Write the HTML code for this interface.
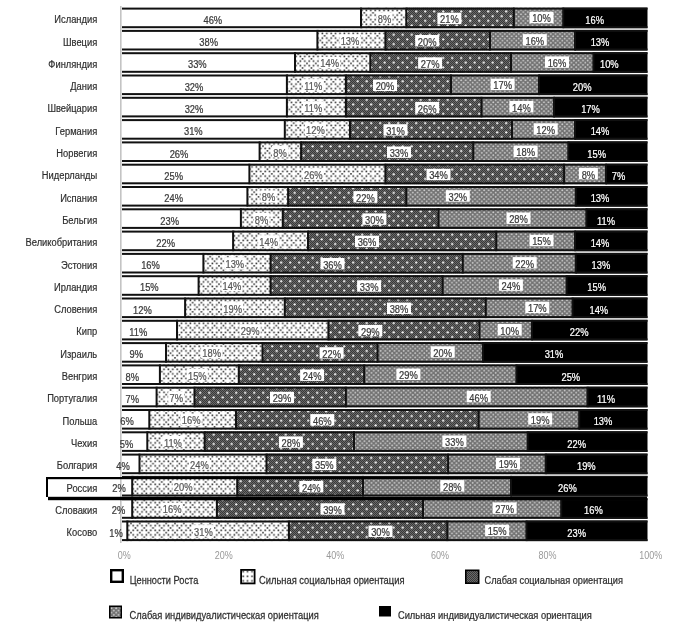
<!DOCTYPE html><html><head><meta charset="utf-8"><style>html,body{margin:0;padding:0;background:#fff;width:688px;height:628px;overflow:hidden}svg{display:block;will-change:transform}</style></head><body>
<svg width="688" height="628" viewBox="0 0 688 628" font-family='"Liberation Sans", sans-serif'>
<defs>
<pattern id="pS" width="4.4" height="4.6" patternUnits="userSpaceOnUse"><rect width="4.4" height="4.6" fill="#fff"/><rect x="0.4" y="0.5" width="1.6" height="1.6" fill="#333"/></pattern>
<pattern id="pS2" width="8.8" height="9.2" patternUnits="userSpaceOnUse"><rect x="2.6" y="2.8" width="1.6" height="1.6" fill="#3a3a3a"/><rect x="7.0" y="7.4" width="1.6" height="1.6" fill="#3a3a3a"/></pattern>
<pattern id="pC" width="2" height="2" patternUnits="userSpaceOnUse"><rect width="2" height="2" fill="#6a6a6a"/><rect width="1" height="1" fill="#383838"/><rect x="1" y="1" width="1" height="1" fill="#383838"/></pattern>
<pattern id="pW" width="9" height="9.3" patternUnits="userSpaceOnUse"><circle cx="2.2" cy="2.2" r="1.15" fill="#f2f2f2"/><circle cx="6.7" cy="6.85" r="1.15" fill="#f2f2f2"/></pattern>
<pattern id="pI" width="4.6" height="4.4" patternUnits="userSpaceOnUse"><rect width="4.6" height="4.4" fill="#727272"/><circle cx="1.15" cy="1.1" r="0.95" fill="#cfcfcf"/><circle cx="3.45" cy="3.3" r="0.95" fill="#cfcfcf"/></pattern>
</defs>
<rect x="120" y="6" width="1.6" height="537" fill="#c4c4c4"/>
<rect x="122.0" y="7.6" width="239.0" height="20.6" fill="#fff"/>
<rect x="361.0" y="7.6" width="45.3" height="20.6" fill="url(#pS)"/>
<rect x="361.0" y="7.6" width="45.3" height="20.6" fill="url(#pS2)"/>
<rect x="406.3" y="7.6" width="107.6" height="20.6" fill="url(#pC)"/>
<rect x="406.3" y="7.6" width="107.6" height="20.6" fill="url(#pW)"/>
<rect x="513.9" y="7.6" width="49.3" height="20.6" fill="url(#pI)"/>
<rect x="563.2" y="7.6" width="84.3" height="20.6" fill="#000"/>
<rect x="122.0" y="7.6" width="525.5" height="2" fill="#111"/>
<rect x="122.0" y="26.2" width="525.5" height="2" fill="#111"/>
<rect x="360.0" y="7.6" width="2" height="20.6" fill="#111"/>
<rect x="405.3" y="7.6" width="2" height="20.6" fill="#111"/>
<rect x="512.9" y="7.6" width="2" height="20.6" fill="#111"/>
<rect x="562.2" y="7.6" width="2" height="20.6" fill="#111"/>
<text x="0" y="0" transform="translate(212.8,23.8) scale(0.85,1)" text-anchor="middle" font-size="11" fill="#3a3a3a" stroke="#3a3a3a" stroke-width="0.25">46%</text>
<rect x="376.5" y="12.2" width="16.0" height="11.4" fill="#fff"/>
<text x="0" y="0" transform="translate(384.5,22.8) scale(0.85,1)" text-anchor="middle" font-size="11" fill="#585858" stroke="#585858" stroke-width="0.25">8%</text>
<rect x="437.4" y="12.7" width="24.0" height="11.4" fill="#fff"/>
<text x="0" y="0" transform="translate(449.4,23.3) scale(0.85,1)" text-anchor="middle" font-size="11" fill="#3a3a3a" stroke="#3a3a3a" stroke-width="0.25">21%</text>
<rect x="529.5" y="11.8" width="24.0" height="11.4" fill="#fff"/>
<text x="0" y="0" transform="translate(541.5,22.4) scale(0.85,1)" text-anchor="middle" font-size="11" fill="#3a3a3a" stroke="#3a3a3a" stroke-width="0.25">10%</text>
<text x="0" y="0" transform="translate(594.6,23.8) scale(0.85,1)" text-anchor="middle" font-size="11" fill="#fff" stroke="#fff" stroke-width="0.25">16%</text>
<text x="0" y="0" transform="translate(97.2,23.2) scale(0.85,1)" text-anchor="end" font-size="11" fill="#2e2e2e" stroke="#2e2e2e" stroke-width="0.2">Исландия</text>
<rect x="122.0" y="29.9" width="195.4" height="20.6" fill="#fff"/>
<rect x="317.4" y="29.9" width="68.0" height="20.6" fill="url(#pS)"/>
<rect x="317.4" y="29.9" width="68.0" height="20.6" fill="url(#pS2)"/>
<rect x="385.4" y="29.9" width="104.6" height="20.6" fill="url(#pC)"/>
<rect x="385.4" y="29.9" width="104.6" height="20.6" fill="url(#pW)"/>
<rect x="490.0" y="29.9" width="85.0" height="20.6" fill="url(#pI)"/>
<rect x="575.0" y="29.9" width="72.5" height="20.6" fill="#000"/>
<rect x="122.0" y="29.9" width="525.5" height="2" fill="#111"/>
<rect x="122.0" y="48.5" width="525.5" height="2" fill="#111"/>
<rect x="316.4" y="29.9" width="2" height="20.6" fill="#111"/>
<rect x="384.4" y="29.9" width="2" height="20.6" fill="#111"/>
<rect x="489.0" y="29.9" width="2" height="20.6" fill="#111"/>
<rect x="574.0" y="29.9" width="2" height="20.6" fill="#111"/>
<text x="0" y="0" transform="translate(208.7,46.1) scale(0.85,1)" text-anchor="middle" font-size="11" fill="#3a3a3a" stroke="#3a3a3a" stroke-width="0.25">38%</text>
<rect x="339.5" y="34.5" width="21.0" height="11.4" fill="#fff"/>
<text x="0" y="0" transform="translate(350.0,45.1) scale(0.85,1)" text-anchor="middle" font-size="11" fill="#585858" stroke="#585858" stroke-width="0.25">13%</text>
<rect x="415.2" y="35.0" width="24.0" height="11.4" fill="#fff"/>
<text x="0" y="0" transform="translate(427.2,45.6) scale(0.85,1)" text-anchor="middle" font-size="11" fill="#3a3a3a" stroke="#3a3a3a" stroke-width="0.25">20%</text>
<rect x="522.8" y="34.1" width="24.0" height="11.4" fill="#fff"/>
<text x="0" y="0" transform="translate(534.8,44.7) scale(0.85,1)" text-anchor="middle" font-size="11" fill="#3a3a3a" stroke="#3a3a3a" stroke-width="0.25">16%</text>
<text x="0" y="0" transform="translate(600.0,46.1) scale(0.85,1)" text-anchor="middle" font-size="11" fill="#fff" stroke="#fff" stroke-width="0.25">13%</text>
<text x="0" y="0" transform="translate(97.2,45.5) scale(0.85,1)" text-anchor="end" font-size="11" fill="#2e2e2e" stroke="#2e2e2e" stroke-width="0.2">Швеция</text>
<rect x="122.0" y="52.2" width="173.0" height="20.6" fill="#fff"/>
<rect x="295.0" y="52.2" width="75.3" height="20.6" fill="url(#pS)"/>
<rect x="295.0" y="52.2" width="75.3" height="20.6" fill="url(#pS2)"/>
<rect x="370.3" y="52.2" width="140.7" height="20.6" fill="url(#pC)"/>
<rect x="370.3" y="52.2" width="140.7" height="20.6" fill="url(#pW)"/>
<rect x="511.0" y="52.2" width="82.4" height="20.6" fill="url(#pI)"/>
<rect x="593.4" y="52.2" width="54.1" height="20.6" fill="#000"/>
<rect x="122.0" y="52.2" width="525.5" height="2" fill="#111"/>
<rect x="122.0" y="70.8" width="525.5" height="2" fill="#111"/>
<rect x="294.0" y="52.2" width="2" height="20.6" fill="#111"/>
<rect x="369.3" y="52.2" width="2" height="20.6" fill="#111"/>
<rect x="510.0" y="52.2" width="2" height="20.6" fill="#111"/>
<rect x="592.4" y="52.2" width="2" height="20.6" fill="#111"/>
<text x="0" y="0" transform="translate(197.3,68.4) scale(0.85,1)" text-anchor="middle" font-size="11" fill="#3a3a3a" stroke="#3a3a3a" stroke-width="0.25">33%</text>
<rect x="319.1" y="56.8" width="21.0" height="11.4" fill="#fff"/>
<text x="0" y="0" transform="translate(329.6,67.4) scale(0.85,1)" text-anchor="middle" font-size="11" fill="#585858" stroke="#585858" stroke-width="0.25">14%</text>
<rect x="418.1" y="57.3" width="24.0" height="11.4" fill="#fff"/>
<text x="0" y="0" transform="translate(430.1,67.9) scale(0.85,1)" text-anchor="middle" font-size="11" fill="#3a3a3a" stroke="#3a3a3a" stroke-width="0.25">27%</text>
<rect x="545.0" y="56.4" width="24.0" height="11.4" fill="#fff"/>
<text x="0" y="0" transform="translate(557.0,67.0) scale(0.85,1)" text-anchor="middle" font-size="11" fill="#3a3a3a" stroke="#3a3a3a" stroke-width="0.25">16%</text>
<text x="0" y="0" transform="translate(609.3,68.4) scale(0.85,1)" text-anchor="middle" font-size="11" fill="#fff" stroke="#fff" stroke-width="0.25">10%</text>
<text x="0" y="0" transform="translate(97.2,67.8) scale(0.85,1)" text-anchor="end" font-size="11" fill="#2e2e2e" stroke="#2e2e2e" stroke-width="0.2">Финляндия</text>
<rect x="122.0" y="74.5" width="164.9" height="20.6" fill="#fff"/>
<rect x="286.9" y="74.5" width="59.0" height="20.6" fill="url(#pS)"/>
<rect x="286.9" y="74.5" width="59.0" height="20.6" fill="url(#pS2)"/>
<rect x="345.9" y="74.5" width="105.1" height="20.6" fill="url(#pC)"/>
<rect x="345.9" y="74.5" width="105.1" height="20.6" fill="url(#pW)"/>
<rect x="451.0" y="74.5" width="88.0" height="20.6" fill="url(#pI)"/>
<rect x="539.0" y="74.5" width="108.5" height="20.6" fill="#000"/>
<rect x="122.0" y="74.5" width="525.5" height="2" fill="#111"/>
<rect x="122.0" y="93.1" width="525.5" height="2" fill="#111"/>
<rect x="285.9" y="74.5" width="2" height="20.6" fill="#111"/>
<rect x="344.9" y="74.5" width="2" height="20.6" fill="#111"/>
<rect x="450.0" y="74.5" width="2" height="20.6" fill="#111"/>
<rect x="538.0" y="74.5" width="2" height="20.6" fill="#111"/>
<text x="0" y="0" transform="translate(194.0,90.7) scale(0.85,1)" text-anchor="middle" font-size="11" fill="#3a3a3a" stroke="#3a3a3a" stroke-width="0.25">32%</text>
<rect x="302.8" y="79.1" width="21.0" height="11.4" fill="#fff"/>
<text x="0" y="0" transform="translate(313.3,89.7) scale(0.85,1)" text-anchor="middle" font-size="11" fill="#585858" stroke="#585858" stroke-width="0.25">11%</text>
<rect x="373.0" y="79.6" width="24.0" height="11.4" fill="#fff"/>
<text x="0" y="0" transform="translate(385.0,90.2) scale(0.85,1)" text-anchor="middle" font-size="11" fill="#3a3a3a" stroke="#3a3a3a" stroke-width="0.25">20%</text>
<rect x="490.6" y="78.7" width="24.0" height="11.4" fill="#fff"/>
<text x="0" y="0" transform="translate(502.6,89.3) scale(0.85,1)" text-anchor="middle" font-size="11" fill="#3a3a3a" stroke="#3a3a3a" stroke-width="0.25">17%</text>
<text x="0" y="0" transform="translate(582.1,90.7) scale(0.85,1)" text-anchor="middle" font-size="11" fill="#fff" stroke="#fff" stroke-width="0.25">20%</text>
<text x="0" y="0" transform="translate(97.2,90.1) scale(0.85,1)" text-anchor="end" font-size="11" fill="#2e2e2e" stroke="#2e2e2e" stroke-width="0.2">Дания</text>
<rect x="122.0" y="96.8" width="164.9" height="20.6" fill="#fff"/>
<rect x="286.9" y="96.8" width="59.0" height="20.6" fill="url(#pS)"/>
<rect x="286.9" y="96.8" width="59.0" height="20.6" fill="url(#pS2)"/>
<rect x="345.9" y="96.8" width="135.7" height="20.6" fill="url(#pC)"/>
<rect x="345.9" y="96.8" width="135.7" height="20.6" fill="url(#pW)"/>
<rect x="481.6" y="96.8" width="72.4" height="20.6" fill="url(#pI)"/>
<rect x="554.0" y="96.8" width="93.5" height="20.6" fill="#000"/>
<rect x="122.0" y="96.8" width="525.5" height="2" fill="#111"/>
<rect x="122.0" y="115.4" width="525.5" height="2" fill="#111"/>
<rect x="285.9" y="96.8" width="2" height="20.6" fill="#111"/>
<rect x="344.9" y="96.8" width="2" height="20.6" fill="#111"/>
<rect x="480.6" y="96.8" width="2" height="20.6" fill="#111"/>
<rect x="553.0" y="96.8" width="2" height="20.6" fill="#111"/>
<text x="0" y="0" transform="translate(194.0,113.0) scale(0.85,1)" text-anchor="middle" font-size="11" fill="#3a3a3a" stroke="#3a3a3a" stroke-width="0.25">32%</text>
<rect x="302.8" y="101.4" width="21.0" height="11.4" fill="#fff"/>
<text x="0" y="0" transform="translate(313.3,112.0) scale(0.85,1)" text-anchor="middle" font-size="11" fill="#585858" stroke="#585858" stroke-width="0.25">11%</text>
<rect x="415.2" y="101.9" width="24.0" height="11.4" fill="#fff"/>
<text x="0" y="0" transform="translate(427.2,112.5) scale(0.85,1)" text-anchor="middle" font-size="11" fill="#3a3a3a" stroke="#3a3a3a" stroke-width="0.25">26%</text>
<rect x="509.4" y="101.0" width="24.0" height="11.4" fill="#fff"/>
<text x="0" y="0" transform="translate(521.4,111.6) scale(0.85,1)" text-anchor="middle" font-size="11" fill="#3a3a3a" stroke="#3a3a3a" stroke-width="0.25">14%</text>
<text x="0" y="0" transform="translate(590.5,113.0) scale(0.85,1)" text-anchor="middle" font-size="11" fill="#fff" stroke="#fff" stroke-width="0.25">17%</text>
<text x="0" y="0" transform="translate(97.2,112.4) scale(0.85,1)" text-anchor="end" font-size="11" fill="#2e2e2e" stroke="#2e2e2e" stroke-width="0.2">Швейцария</text>
<rect x="122.0" y="119.1" width="162.8" height="20.6" fill="#fff"/>
<rect x="284.8" y="119.1" width="65.2" height="20.6" fill="url(#pS)"/>
<rect x="284.8" y="119.1" width="65.2" height="20.6" fill="url(#pS2)"/>
<rect x="350.0" y="119.1" width="162.0" height="20.6" fill="url(#pC)"/>
<rect x="350.0" y="119.1" width="162.0" height="20.6" fill="url(#pW)"/>
<rect x="512.0" y="119.1" width="63.0" height="20.6" fill="url(#pI)"/>
<rect x="575.0" y="119.1" width="72.5" height="20.6" fill="#000"/>
<rect x="122.0" y="119.1" width="525.5" height="2" fill="#111"/>
<rect x="122.0" y="137.7" width="525.5" height="2" fill="#111"/>
<rect x="283.8" y="119.1" width="2" height="20.6" fill="#111"/>
<rect x="349.0" y="119.1" width="2" height="20.6" fill="#111"/>
<rect x="511.0" y="119.1" width="2" height="20.6" fill="#111"/>
<rect x="574.0" y="119.1" width="2" height="20.6" fill="#111"/>
<text x="0" y="0" transform="translate(193.3,135.3) scale(0.85,1)" text-anchor="middle" font-size="11" fill="#3a3a3a" stroke="#3a3a3a" stroke-width="0.25">31%</text>
<rect x="304.9" y="123.7" width="21.0" height="11.4" fill="#fff"/>
<text x="0" y="0" transform="translate(315.4,134.3) scale(0.85,1)" text-anchor="middle" font-size="11" fill="#585858" stroke="#585858" stroke-width="0.25">12%</text>
<rect x="383.5" y="124.2" width="24.0" height="11.4" fill="#fff"/>
<text x="0" y="0" transform="translate(395.5,134.8) scale(0.85,1)" text-anchor="middle" font-size="11" fill="#3a3a3a" stroke="#3a3a3a" stroke-width="0.25">31%</text>
<rect x="533.7" y="123.3" width="24.0" height="11.4" fill="#fff"/>
<text x="0" y="0" transform="translate(545.7,133.9) scale(0.85,1)" text-anchor="middle" font-size="11" fill="#3a3a3a" stroke="#3a3a3a" stroke-width="0.25">12%</text>
<text x="0" y="0" transform="translate(600.0,135.3) scale(0.85,1)" text-anchor="middle" font-size="11" fill="#fff" stroke="#fff" stroke-width="0.25">14%</text>
<text x="0" y="0" transform="translate(97.2,134.7) scale(0.85,1)" text-anchor="end" font-size="11" fill="#2e2e2e" stroke="#2e2e2e" stroke-width="0.2">Германия</text>
<rect x="122.0" y="141.4" width="137.6" height="20.6" fill="#fff"/>
<rect x="259.6" y="141.4" width="41.5" height="20.6" fill="url(#pS)"/>
<rect x="259.6" y="141.4" width="41.5" height="20.6" fill="url(#pS2)"/>
<rect x="301.1" y="141.4" width="172.2" height="20.6" fill="url(#pC)"/>
<rect x="301.1" y="141.4" width="172.2" height="20.6" fill="url(#pW)"/>
<rect x="473.3" y="141.4" width="95.0" height="20.6" fill="url(#pI)"/>
<rect x="568.3" y="141.4" width="79.2" height="20.6" fill="#000"/>
<rect x="122.0" y="141.4" width="525.5" height="2" fill="#111"/>
<rect x="122.0" y="160.0" width="525.5" height="2" fill="#111"/>
<rect x="258.6" y="141.4" width="2" height="20.6" fill="#111"/>
<rect x="300.1" y="141.4" width="2" height="20.6" fill="#111"/>
<rect x="472.3" y="141.4" width="2" height="20.6" fill="#111"/>
<rect x="567.3" y="141.4" width="2" height="20.6" fill="#111"/>
<text x="0" y="0" transform="translate(179.0,157.6) scale(0.85,1)" text-anchor="middle" font-size="11" fill="#3a3a3a" stroke="#3a3a3a" stroke-width="0.25">26%</text>
<rect x="272.0" y="146.0" width="16.0" height="11.4" fill="#fff"/>
<text x="0" y="0" transform="translate(280.0,156.6) scale(0.85,1)" text-anchor="middle" font-size="11" fill="#585858" stroke="#585858" stroke-width="0.25">8%</text>
<rect x="387.0" y="146.5" width="24.0" height="11.4" fill="#fff"/>
<text x="0" y="0" transform="translate(399.0,157.1) scale(0.85,1)" text-anchor="middle" font-size="11" fill="#3a3a3a" stroke="#3a3a3a" stroke-width="0.25">33%</text>
<rect x="513.6" y="145.6" width="24.0" height="11.4" fill="#fff"/>
<text x="0" y="0" transform="translate(525.6,156.2) scale(0.85,1)" text-anchor="middle" font-size="11" fill="#3a3a3a" stroke="#3a3a3a" stroke-width="0.25">18%</text>
<text x="0" y="0" transform="translate(596.7,157.6) scale(0.85,1)" text-anchor="middle" font-size="11" fill="#fff" stroke="#fff" stroke-width="0.25">15%</text>
<text x="0" y="0" transform="translate(97.2,157.0) scale(0.85,1)" text-anchor="end" font-size="11" fill="#2e2e2e" stroke="#2e2e2e" stroke-width="0.2">Норвегия</text>
<rect x="122.0" y="163.7" width="127.4" height="20.6" fill="#fff"/>
<rect x="249.4" y="163.7" width="136.0" height="20.6" fill="url(#pS)"/>
<rect x="249.4" y="163.7" width="136.0" height="20.6" fill="url(#pS2)"/>
<rect x="385.4" y="163.7" width="178.7" height="20.6" fill="url(#pC)"/>
<rect x="385.4" y="163.7" width="178.7" height="20.6" fill="url(#pW)"/>
<rect x="564.1" y="163.7" width="41.9" height="20.6" fill="url(#pI)"/>
<rect x="606.0" y="163.7" width="41.5" height="20.6" fill="#000"/>
<rect x="122.0" y="163.7" width="525.5" height="2" fill="#111"/>
<rect x="122.0" y="182.3" width="525.5" height="2" fill="#111"/>
<rect x="248.4" y="163.7" width="2" height="20.6" fill="#111"/>
<rect x="384.4" y="163.7" width="2" height="20.6" fill="#111"/>
<rect x="563.1" y="163.7" width="2" height="20.6" fill="#111"/>
<rect x="605.0" y="163.7" width="2" height="20.6" fill="#111"/>
<text x="0" y="0" transform="translate(173.7,179.9) scale(0.85,1)" text-anchor="middle" font-size="11" fill="#3a3a3a" stroke="#3a3a3a" stroke-width="0.25">25%</text>
<rect x="302.8" y="168.3" width="21.0" height="11.4" fill="#fff"/>
<text x="0" y="0" transform="translate(313.3,178.9) scale(0.85,1)" text-anchor="middle" font-size="11" fill="#585858" stroke="#585858" stroke-width="0.25">26%</text>
<rect x="426.5" y="168.8" width="24.0" height="11.4" fill="#fff"/>
<text x="0" y="0" transform="translate(438.5,179.4) scale(0.85,1)" text-anchor="middle" font-size="11" fill="#3a3a3a" stroke="#3a3a3a" stroke-width="0.25">34%</text>
<rect x="578.9" y="167.9" width="19.0" height="11.4" fill="#fff"/>
<text x="0" y="0" transform="translate(588.4,178.5) scale(0.85,1)" text-anchor="middle" font-size="11" fill="#3a3a3a" stroke="#3a3a3a" stroke-width="0.25">8%</text>
<text x="0" y="0" transform="translate(618.5,179.9) scale(0.85,1)" text-anchor="middle" font-size="11" fill="#fff" stroke="#fff" stroke-width="0.25">7%</text>
<text x="0" y="0" transform="translate(97.2,179.3) scale(0.85,1)" text-anchor="end" font-size="11" fill="#2e2e2e" stroke="#2e2e2e" stroke-width="0.2">Нидерланды</text>
<rect x="122.0" y="186.0" width="125.4" height="20.6" fill="#fff"/>
<rect x="247.4" y="186.0" width="40.7" height="20.6" fill="url(#pS)"/>
<rect x="247.4" y="186.0" width="40.7" height="20.6" fill="url(#pS2)"/>
<rect x="288.1" y="186.0" width="118.2" height="20.6" fill="url(#pC)"/>
<rect x="288.1" y="186.0" width="118.2" height="20.6" fill="url(#pW)"/>
<rect x="406.3" y="186.0" width="169.5" height="20.6" fill="url(#pI)"/>
<rect x="575.8" y="186.0" width="71.7" height="20.6" fill="#000"/>
<rect x="122.0" y="186.0" width="525.5" height="2" fill="#111"/>
<rect x="122.0" y="204.6" width="525.5" height="2" fill="#111"/>
<rect x="246.4" y="186.0" width="2" height="20.6" fill="#111"/>
<rect x="287.1" y="186.0" width="2" height="20.6" fill="#111"/>
<rect x="405.3" y="186.0" width="2" height="20.6" fill="#111"/>
<rect x="574.8" y="186.0" width="2" height="20.6" fill="#111"/>
<text x="0" y="0" transform="translate(173.7,202.2) scale(0.85,1)" text-anchor="middle" font-size="11" fill="#3a3a3a" stroke="#3a3a3a" stroke-width="0.25">24%</text>
<rect x="260.6" y="190.6" width="16.0" height="11.4" fill="#fff"/>
<text x="0" y="0" transform="translate(268.6,201.2) scale(0.85,1)" text-anchor="middle" font-size="11" fill="#585858" stroke="#585858" stroke-width="0.25">8%</text>
<rect x="353.4" y="191.1" width="24.0" height="11.4" fill="#fff"/>
<text x="0" y="0" transform="translate(365.4,201.7) scale(0.85,1)" text-anchor="middle" font-size="11" fill="#3a3a3a" stroke="#3a3a3a" stroke-width="0.25">22%</text>
<rect x="445.8" y="190.2" width="24.0" height="11.4" fill="#fff"/>
<text x="0" y="0" transform="translate(457.8,200.8) scale(0.85,1)" text-anchor="middle" font-size="11" fill="#3a3a3a" stroke="#3a3a3a" stroke-width="0.25">32%</text>
<text x="0" y="0" transform="translate(600.0,202.2) scale(0.85,1)" text-anchor="middle" font-size="11" fill="#fff" stroke="#fff" stroke-width="0.25">13%</text>
<text x="0" y="0" transform="translate(97.2,201.6) scale(0.85,1)" text-anchor="end" font-size="11" fill="#2e2e2e" stroke="#2e2e2e" stroke-width="0.2">Испания</text>
<rect x="122.0" y="208.3" width="118.9" height="20.6" fill="#fff"/>
<rect x="240.9" y="208.3" width="41.9" height="20.6" fill="url(#pS)"/>
<rect x="240.9" y="208.3" width="41.9" height="20.6" fill="url(#pS2)"/>
<rect x="282.8" y="208.3" width="155.7" height="20.6" fill="url(#pC)"/>
<rect x="282.8" y="208.3" width="155.7" height="20.6" fill="url(#pW)"/>
<rect x="438.5" y="208.3" width="147.8" height="20.6" fill="url(#pI)"/>
<rect x="586.3" y="208.3" width="61.2" height="20.6" fill="#000"/>
<rect x="122.0" y="208.3" width="525.5" height="2" fill="#111"/>
<rect x="122.0" y="226.9" width="525.5" height="2" fill="#111"/>
<rect x="239.9" y="208.3" width="2" height="20.6" fill="#111"/>
<rect x="281.8" y="208.3" width="2" height="20.6" fill="#111"/>
<rect x="437.5" y="208.3" width="2" height="20.6" fill="#111"/>
<rect x="585.3" y="208.3" width="2" height="20.6" fill="#111"/>
<text x="0" y="0" transform="translate(169.7,224.5) scale(0.85,1)" text-anchor="middle" font-size="11" fill="#3a3a3a" stroke="#3a3a3a" stroke-width="0.25">23%</text>
<rect x="253.6" y="212.9" width="16.0" height="11.4" fill="#fff"/>
<text x="0" y="0" transform="translate(261.6,223.5) scale(0.85,1)" text-anchor="middle" font-size="11" fill="#585858" stroke="#585858" stroke-width="0.25">8%</text>
<rect x="362.4" y="213.4" width="24.0" height="11.4" fill="#fff"/>
<text x="0" y="0" transform="translate(374.4,224.0) scale(0.85,1)" text-anchor="middle" font-size="11" fill="#3a3a3a" stroke="#3a3a3a" stroke-width="0.25">30%</text>
<rect x="506.5" y="212.5" width="24.0" height="11.4" fill="#fff"/>
<text x="0" y="0" transform="translate(518.5,223.1) scale(0.85,1)" text-anchor="middle" font-size="11" fill="#3a3a3a" stroke="#3a3a3a" stroke-width="0.25">28%</text>
<text x="0" y="0" transform="translate(606.0,224.5) scale(0.85,1)" text-anchor="middle" font-size="11" fill="#fff" stroke="#fff" stroke-width="0.25">11%</text>
<text x="0" y="0" transform="translate(97.2,223.9) scale(0.85,1)" text-anchor="end" font-size="11" fill="#2e2e2e" stroke="#2e2e2e" stroke-width="0.2">Бельгия</text>
<rect x="122.0" y="230.6" width="111.1" height="20.6" fill="#fff"/>
<rect x="233.1" y="230.6" width="74.9" height="20.6" fill="url(#pS)"/>
<rect x="233.1" y="230.6" width="74.9" height="20.6" fill="url(#pS2)"/>
<rect x="308.0" y="230.6" width="188.3" height="20.6" fill="url(#pC)"/>
<rect x="308.0" y="230.6" width="188.3" height="20.6" fill="url(#pW)"/>
<rect x="496.3" y="230.6" width="78.7" height="20.6" fill="url(#pI)"/>
<rect x="575.0" y="230.6" width="72.5" height="20.6" fill="#000"/>
<rect x="122.0" y="230.6" width="525.5" height="2" fill="#111"/>
<rect x="122.0" y="249.2" width="525.5" height="2" fill="#111"/>
<rect x="232.1" y="230.6" width="2" height="20.6" fill="#111"/>
<rect x="307.0" y="230.6" width="2" height="20.6" fill="#111"/>
<rect x="495.3" y="230.6" width="2" height="20.6" fill="#111"/>
<rect x="574.0" y="230.6" width="2" height="20.6" fill="#111"/>
<text x="0" y="0" transform="translate(165.6,246.8) scale(0.85,1)" text-anchor="middle" font-size="11" fill="#3a3a3a" stroke="#3a3a3a" stroke-width="0.25">22%</text>
<rect x="258.1" y="235.2" width="21.0" height="11.4" fill="#fff"/>
<text x="0" y="0" transform="translate(268.6,245.8) scale(0.85,1)" text-anchor="middle" font-size="11" fill="#585858" stroke="#585858" stroke-width="0.25">14%</text>
<rect x="355.0" y="235.7" width="24.0" height="11.4" fill="#fff"/>
<text x="0" y="0" transform="translate(367.0,246.3) scale(0.85,1)" text-anchor="middle" font-size="11" fill="#3a3a3a" stroke="#3a3a3a" stroke-width="0.25">36%</text>
<rect x="529.5" y="234.8" width="24.0" height="11.4" fill="#fff"/>
<text x="0" y="0" transform="translate(541.5,245.4) scale(0.85,1)" text-anchor="middle" font-size="11" fill="#3a3a3a" stroke="#3a3a3a" stroke-width="0.25">15%</text>
<text x="0" y="0" transform="translate(600.0,246.8) scale(0.85,1)" text-anchor="middle" font-size="11" fill="#fff" stroke="#fff" stroke-width="0.25">14%</text>
<text x="0" y="0" transform="translate(97.2,246.2) scale(0.85,1)" text-anchor="end" font-size="11" fill="#2e2e2e" stroke="#2e2e2e" stroke-width="0.2">Великобритания</text>
<rect x="122.0" y="252.9" width="81.4" height="20.6" fill="#fff"/>
<rect x="203.4" y="252.9" width="67.2" height="20.6" fill="url(#pS)"/>
<rect x="203.4" y="252.9" width="67.2" height="20.6" fill="url(#pS2)"/>
<rect x="270.6" y="252.9" width="192.2" height="20.6" fill="url(#pC)"/>
<rect x="270.6" y="252.9" width="192.2" height="20.6" fill="url(#pW)"/>
<rect x="462.8" y="252.9" width="113.0" height="20.6" fill="url(#pI)"/>
<rect x="575.8" y="252.9" width="71.7" height="20.6" fill="#000"/>
<rect x="122.0" y="252.9" width="525.5" height="2" fill="#111"/>
<rect x="122.0" y="271.5" width="525.5" height="2" fill="#111"/>
<rect x="202.4" y="252.9" width="2" height="20.6" fill="#111"/>
<rect x="269.6" y="252.9" width="2" height="20.6" fill="#111"/>
<rect x="461.8" y="252.9" width="2" height="20.6" fill="#111"/>
<rect x="574.8" y="252.9" width="2" height="20.6" fill="#111"/>
<text x="0" y="0" transform="translate(150.5,269.1) scale(0.85,1)" text-anchor="middle" font-size="11" fill="#3a3a3a" stroke="#3a3a3a" stroke-width="0.25">16%</text>
<rect x="224.3" y="257.5" width="21.0" height="11.4" fill="#fff"/>
<text x="0" y="0" transform="translate(234.8,268.1) scale(0.85,1)" text-anchor="middle" font-size="11" fill="#585858" stroke="#585858" stroke-width="0.25">13%</text>
<rect x="320.5" y="258.0" width="24.0" height="11.4" fill="#fff"/>
<text x="0" y="0" transform="translate(332.5,268.6) scale(0.85,1)" text-anchor="middle" font-size="11" fill="#3a3a3a" stroke="#3a3a3a" stroke-width="0.25">36%</text>
<rect x="512.7" y="257.1" width="24.0" height="11.4" fill="#fff"/>
<text x="0" y="0" transform="translate(524.7,267.7) scale(0.85,1)" text-anchor="middle" font-size="11" fill="#3a3a3a" stroke="#3a3a3a" stroke-width="0.25">22%</text>
<text x="0" y="0" transform="translate(600.9,269.1) scale(0.85,1)" text-anchor="middle" font-size="11" fill="#fff" stroke="#fff" stroke-width="0.25">13%</text>
<text x="0" y="0" transform="translate(97.2,268.5) scale(0.85,1)" text-anchor="end" font-size="11" fill="#2e2e2e" stroke="#2e2e2e" stroke-width="0.2">Эстония</text>
<rect x="122.0" y="275.2" width="76.6" height="20.6" fill="#fff"/>
<rect x="198.6" y="275.2" width="72.0" height="20.6" fill="url(#pS)"/>
<rect x="198.6" y="275.2" width="72.0" height="20.6" fill="url(#pS2)"/>
<rect x="270.6" y="275.2" width="172.1" height="20.6" fill="url(#pC)"/>
<rect x="270.6" y="275.2" width="172.1" height="20.6" fill="url(#pW)"/>
<rect x="442.7" y="275.2" width="123.9" height="20.6" fill="url(#pI)"/>
<rect x="566.6" y="275.2" width="80.9" height="20.6" fill="#000"/>
<rect x="122.0" y="275.2" width="525.5" height="2" fill="#111"/>
<rect x="122.0" y="293.8" width="525.5" height="2" fill="#111"/>
<rect x="197.6" y="275.2" width="2" height="20.6" fill="#111"/>
<rect x="269.6" y="275.2" width="2" height="20.6" fill="#111"/>
<rect x="441.7" y="275.2" width="2" height="20.6" fill="#111"/>
<rect x="565.6" y="275.2" width="2" height="20.6" fill="#111"/>
<text x="0" y="0" transform="translate(149.3,291.4) scale(0.85,1)" text-anchor="middle" font-size="11" fill="#3a3a3a" stroke="#3a3a3a" stroke-width="0.25">15%</text>
<rect x="221.4" y="279.8" width="21.0" height="11.4" fill="#fff"/>
<text x="0" y="0" transform="translate(231.9,290.4) scale(0.85,1)" text-anchor="middle" font-size="11" fill="#585858" stroke="#585858" stroke-width="0.25">14%</text>
<rect x="357.1" y="280.3" width="24.0" height="11.4" fill="#fff"/>
<text x="0" y="0" transform="translate(369.1,290.9) scale(0.85,1)" text-anchor="middle" font-size="11" fill="#3a3a3a" stroke="#3a3a3a" stroke-width="0.25">33%</text>
<rect x="498.9" y="279.4" width="24.0" height="11.4" fill="#fff"/>
<text x="0" y="0" transform="translate(510.9,290.0) scale(0.85,1)" text-anchor="middle" font-size="11" fill="#3a3a3a" stroke="#3a3a3a" stroke-width="0.25">24%</text>
<text x="0" y="0" transform="translate(596.7,291.4) scale(0.85,1)" text-anchor="middle" font-size="11" fill="#fff" stroke="#fff" stroke-width="0.25">15%</text>
<text x="0" y="0" transform="translate(97.2,290.8) scale(0.85,1)" text-anchor="end" font-size="11" fill="#2e2e2e" stroke="#2e2e2e" stroke-width="0.2">Ирландия</text>
<rect x="122.0" y="297.5" width="63.1" height="20.6" fill="#fff"/>
<rect x="185.1" y="297.5" width="99.7" height="20.6" fill="url(#pS)"/>
<rect x="185.1" y="297.5" width="99.7" height="20.6" fill="url(#pS2)"/>
<rect x="284.8" y="297.5" width="201.0" height="20.6" fill="url(#pC)"/>
<rect x="284.8" y="297.5" width="201.0" height="20.6" fill="url(#pW)"/>
<rect x="485.8" y="297.5" width="86.7" height="20.6" fill="url(#pI)"/>
<rect x="572.5" y="297.5" width="75.0" height="20.6" fill="#000"/>
<rect x="122.0" y="297.5" width="525.5" height="2" fill="#111"/>
<rect x="122.0" y="316.1" width="525.5" height="2" fill="#111"/>
<rect x="184.1" y="297.5" width="2" height="20.6" fill="#111"/>
<rect x="283.8" y="297.5" width="2" height="20.6" fill="#111"/>
<rect x="484.8" y="297.5" width="2" height="20.6" fill="#111"/>
<rect x="571.5" y="297.5" width="2" height="20.6" fill="#111"/>
<text x="0" y="0" transform="translate(142.4,313.7) scale(0.85,1)" text-anchor="middle" font-size="11" fill="#3a3a3a" stroke="#3a3a3a" stroke-width="0.25">12%</text>
<rect x="222.2" y="302.1" width="21.0" height="11.4" fill="#fff"/>
<text x="0" y="0" transform="translate(232.7,312.7) scale(0.85,1)" text-anchor="middle" font-size="11" fill="#585858" stroke="#585858" stroke-width="0.25">19%</text>
<rect x="387.0" y="302.6" width="24.0" height="11.4" fill="#fff"/>
<text x="0" y="0" transform="translate(399.0,313.2) scale(0.85,1)" text-anchor="middle" font-size="11" fill="#3a3a3a" stroke="#3a3a3a" stroke-width="0.25">38%</text>
<rect x="525.3" y="301.7" width="24.0" height="11.4" fill="#fff"/>
<text x="0" y="0" transform="translate(537.3,312.3) scale(0.85,1)" text-anchor="middle" font-size="11" fill="#3a3a3a" stroke="#3a3a3a" stroke-width="0.25">17%</text>
<text x="0" y="0" transform="translate(598.8,313.7) scale(0.85,1)" text-anchor="middle" font-size="11" fill="#fff" stroke="#fff" stroke-width="0.25">14%</text>
<text x="0" y="0" transform="translate(97.2,313.1) scale(0.85,1)" text-anchor="end" font-size="11" fill="#2e2e2e" stroke="#2e2e2e" stroke-width="0.2">Словения</text>
<rect x="122.0" y="319.8" width="55.0" height="20.6" fill="#fff"/>
<rect x="177.0" y="319.8" width="151.4" height="20.6" fill="url(#pS)"/>
<rect x="177.0" y="319.8" width="151.4" height="20.6" fill="url(#pS2)"/>
<rect x="328.4" y="319.8" width="151.1" height="20.6" fill="url(#pC)"/>
<rect x="328.4" y="319.8" width="151.1" height="20.6" fill="url(#pW)"/>
<rect x="479.5" y="319.8" width="52.4" height="20.6" fill="url(#pI)"/>
<rect x="531.9" y="319.8" width="115.6" height="20.6" fill="#000"/>
<rect x="122.0" y="319.8" width="525.5" height="2" fill="#111"/>
<rect x="122.0" y="338.4" width="525.5" height="2" fill="#111"/>
<rect x="176.0" y="319.8" width="2" height="20.6" fill="#111"/>
<rect x="327.4" y="319.8" width="2" height="20.6" fill="#111"/>
<rect x="478.5" y="319.8" width="2" height="20.6" fill="#111"/>
<rect x="530.9" y="319.8" width="2" height="20.6" fill="#111"/>
<text x="0" y="0" transform="translate(138.3,336.0) scale(0.85,1)" text-anchor="middle" font-size="11" fill="#3a3a3a" stroke="#3a3a3a" stroke-width="0.25">11%</text>
<rect x="239.7" y="324.4" width="21.0" height="11.4" fill="#fff"/>
<text x="0" y="0" transform="translate(250.2,335.0) scale(0.85,1)" text-anchor="middle" font-size="11" fill="#585858" stroke="#585858" stroke-width="0.25">29%</text>
<rect x="358.3" y="324.9" width="24.0" height="11.4" fill="#fff"/>
<text x="0" y="0" transform="translate(370.3,335.5) scale(0.85,1)" text-anchor="middle" font-size="11" fill="#3a3a3a" stroke="#3a3a3a" stroke-width="0.25">29%</text>
<rect x="497.7" y="324.0" width="24.0" height="11.4" fill="#fff"/>
<text x="0" y="0" transform="translate(509.7,334.6) scale(0.85,1)" text-anchor="middle" font-size="11" fill="#3a3a3a" stroke="#3a3a3a" stroke-width="0.25">10%</text>
<text x="0" y="0" transform="translate(579.2,336.0) scale(0.85,1)" text-anchor="middle" font-size="11" fill="#fff" stroke="#fff" stroke-width="0.25">22%</text>
<text x="0" y="0" transform="translate(97.2,335.4) scale(0.85,1)" text-anchor="end" font-size="11" fill="#2e2e2e" stroke="#2e2e2e" stroke-width="0.2">Кипр</text>
<rect x="122.0" y="342.1" width="44.0" height="20.6" fill="#fff"/>
<rect x="166.0" y="342.1" width="96.5" height="20.6" fill="url(#pS)"/>
<rect x="166.0" y="342.1" width="96.5" height="20.6" fill="url(#pS2)"/>
<rect x="262.5" y="342.1" width="115.1" height="20.6" fill="url(#pC)"/>
<rect x="262.5" y="342.1" width="115.1" height="20.6" fill="url(#pW)"/>
<rect x="377.6" y="342.1" width="105.3" height="20.6" fill="url(#pI)"/>
<rect x="482.9" y="342.1" width="164.6" height="20.6" fill="#000"/>
<rect x="122.0" y="342.1" width="525.5" height="2" fill="#111"/>
<rect x="122.0" y="360.7" width="525.5" height="2" fill="#111"/>
<rect x="165.0" y="342.1" width="2" height="20.6" fill="#111"/>
<rect x="261.5" y="342.1" width="2" height="20.6" fill="#111"/>
<rect x="376.6" y="342.1" width="2" height="20.6" fill="#111"/>
<rect x="481.9" y="342.1" width="2" height="20.6" fill="#111"/>
<text x="0" y="0" transform="translate(136.3,358.3) scale(0.85,1)" text-anchor="middle" font-size="11" fill="#3a3a3a" stroke="#3a3a3a" stroke-width="0.25">9%</text>
<rect x="201.1" y="346.7" width="21.0" height="11.4" fill="#fff"/>
<text x="0" y="0" transform="translate(211.6,357.3) scale(0.85,1)" text-anchor="middle" font-size="11" fill="#585858" stroke="#585858" stroke-width="0.25">18%</text>
<rect x="319.6" y="347.2" width="24.0" height="11.4" fill="#fff"/>
<text x="0" y="0" transform="translate(331.6,357.8) scale(0.85,1)" text-anchor="middle" font-size="11" fill="#3a3a3a" stroke="#3a3a3a" stroke-width="0.25">22%</text>
<rect x="430.7" y="346.3" width="24.0" height="11.4" fill="#fff"/>
<text x="0" y="0" transform="translate(442.7,356.9) scale(0.85,1)" text-anchor="middle" font-size="11" fill="#3a3a3a" stroke="#3a3a3a" stroke-width="0.25">20%</text>
<text x="0" y="0" transform="translate(554.0,358.3) scale(0.85,1)" text-anchor="middle" font-size="11" fill="#fff" stroke="#fff" stroke-width="0.25">31%</text>
<text x="0" y="0" transform="translate(97.2,357.7) scale(0.85,1)" text-anchor="end" font-size="11" fill="#2e2e2e" stroke="#2e2e2e" stroke-width="0.2">Израиль</text>
<rect x="122.0" y="364.4" width="37.9" height="20.6" fill="#fff"/>
<rect x="159.9" y="364.4" width="78.9" height="20.6" fill="url(#pS)"/>
<rect x="159.9" y="364.4" width="78.9" height="20.6" fill="url(#pS2)"/>
<rect x="238.8" y="364.4" width="125.4" height="20.6" fill="url(#pC)"/>
<rect x="238.8" y="364.4" width="125.4" height="20.6" fill="url(#pW)"/>
<rect x="364.2" y="364.4" width="152.2" height="20.6" fill="url(#pI)"/>
<rect x="516.4" y="364.4" width="131.1" height="20.6" fill="#000"/>
<rect x="122.0" y="364.4" width="525.5" height="2" fill="#111"/>
<rect x="122.0" y="383.0" width="525.5" height="2" fill="#111"/>
<rect x="158.9" y="364.4" width="2" height="20.6" fill="#111"/>
<rect x="237.8" y="364.4" width="2" height="20.6" fill="#111"/>
<rect x="363.2" y="364.4" width="2" height="20.6" fill="#111"/>
<rect x="515.4" y="364.4" width="2" height="20.6" fill="#111"/>
<text x="0" y="0" transform="translate(132.2,380.6) scale(0.85,1)" text-anchor="middle" font-size="11" fill="#3a3a3a" stroke="#3a3a3a" stroke-width="0.25">8%</text>
<rect x="186.8" y="369.0" width="21.0" height="11.4" fill="#fff"/>
<text x="0" y="0" transform="translate(197.3,379.6) scale(0.85,1)" text-anchor="middle" font-size="11" fill="#585858" stroke="#585858" stroke-width="0.25">15%</text>
<rect x="300.1" y="369.5" width="24.0" height="11.4" fill="#fff"/>
<text x="0" y="0" transform="translate(312.1,380.1) scale(0.85,1)" text-anchor="middle" font-size="11" fill="#3a3a3a" stroke="#3a3a3a" stroke-width="0.25">24%</text>
<rect x="396.4" y="368.6" width="24.0" height="11.4" fill="#fff"/>
<text x="0" y="0" transform="translate(408.4,379.2) scale(0.85,1)" text-anchor="middle" font-size="11" fill="#3a3a3a" stroke="#3a3a3a" stroke-width="0.25">29%</text>
<text x="0" y="0" transform="translate(570.8,380.6) scale(0.85,1)" text-anchor="middle" font-size="11" fill="#fff" stroke="#fff" stroke-width="0.25">25%</text>
<text x="0" y="0" transform="translate(97.2,380.0) scale(0.85,1)" text-anchor="end" font-size="11" fill="#2e2e2e" stroke="#2e2e2e" stroke-width="0.2">Венгрия</text>
<rect x="122.0" y="386.7" width="34.6" height="20.6" fill="#fff"/>
<rect x="156.6" y="386.7" width="37.9" height="20.6" fill="url(#pS)"/>
<rect x="156.6" y="386.7" width="37.9" height="20.6" fill="url(#pS2)"/>
<rect x="194.5" y="386.7" width="151.4" height="20.6" fill="url(#pC)"/>
<rect x="194.5" y="386.7" width="151.4" height="20.6" fill="url(#pW)"/>
<rect x="345.9" y="386.7" width="241.6" height="20.6" fill="url(#pI)"/>
<rect x="587.5" y="386.7" width="60.0" height="20.6" fill="#000"/>
<rect x="122.0" y="386.7" width="525.5" height="2" fill="#111"/>
<rect x="122.0" y="405.3" width="525.5" height="2" fill="#111"/>
<rect x="155.6" y="386.7" width="2" height="20.6" fill="#111"/>
<rect x="193.5" y="386.7" width="2" height="20.6" fill="#111"/>
<rect x="344.9" y="386.7" width="2" height="20.6" fill="#111"/>
<rect x="586.5" y="386.7" width="2" height="20.6" fill="#111"/>
<text x="0" y="0" transform="translate(132.2,402.9) scale(0.85,1)" text-anchor="middle" font-size="11" fill="#3a3a3a" stroke="#3a3a3a" stroke-width="0.25">7%</text>
<rect x="168.2" y="391.3" width="16.0" height="11.4" fill="#fff"/>
<text x="0" y="0" transform="translate(176.2,401.9) scale(0.85,1)" text-anchor="middle" font-size="11" fill="#585858" stroke="#585858" stroke-width="0.25">7%</text>
<rect x="270.0" y="391.8" width="24.0" height="11.4" fill="#fff"/>
<text x="0" y="0" transform="translate(282.0,402.4) scale(0.85,1)" text-anchor="middle" font-size="11" fill="#3a3a3a" stroke="#3a3a3a" stroke-width="0.25">29%</text>
<rect x="466.7" y="390.9" width="24.0" height="11.4" fill="#fff"/>
<text x="0" y="0" transform="translate(478.7,401.5) scale(0.85,1)" text-anchor="middle" font-size="11" fill="#3a3a3a" stroke="#3a3a3a" stroke-width="0.25">46%</text>
<text x="0" y="0" transform="translate(606.0,402.9) scale(0.85,1)" text-anchor="middle" font-size="11" fill="#fff" stroke="#fff" stroke-width="0.25">11%</text>
<text x="0" y="0" transform="translate(97.2,402.3) scale(0.85,1)" text-anchor="end" font-size="11" fill="#2e2e2e" stroke="#2e2e2e" stroke-width="0.2">Португалия</text>
<rect x="122.0" y="409.0" width="27.3" height="20.6" fill="#fff"/>
<rect x="149.3" y="409.0" width="86.7" height="20.6" fill="url(#pS)"/>
<rect x="149.3" y="409.0" width="86.7" height="20.6" fill="url(#pS2)"/>
<rect x="236.0" y="409.0" width="242.7" height="20.6" fill="url(#pC)"/>
<rect x="236.0" y="409.0" width="242.7" height="20.6" fill="url(#pW)"/>
<rect x="478.7" y="409.0" width="100.5" height="20.6" fill="url(#pI)"/>
<rect x="579.2" y="409.0" width="68.3" height="20.6" fill="#000"/>
<rect x="122.0" y="409.0" width="525.5" height="2" fill="#111"/>
<rect x="122.0" y="427.6" width="525.5" height="2" fill="#111"/>
<rect x="148.3" y="409.0" width="2" height="20.6" fill="#111"/>
<rect x="235.0" y="409.0" width="2" height="20.6" fill="#111"/>
<rect x="477.7" y="409.0" width="2" height="20.6" fill="#111"/>
<rect x="578.2" y="409.0" width="2" height="20.6" fill="#111"/>
<text x="0" y="0" transform="translate(127.0,425.2) scale(0.85,1)" text-anchor="middle" font-size="11" fill="#3a3a3a" stroke="#3a3a3a" stroke-width="0.25">6%</text>
<rect x="180.7" y="413.6" width="21.0" height="11.4" fill="#fff"/>
<text x="0" y="0" transform="translate(191.2,424.2) scale(0.85,1)" text-anchor="middle" font-size="11" fill="#585858" stroke="#585858" stroke-width="0.25">16%</text>
<rect x="310.3" y="414.1" width="24.0" height="11.4" fill="#fff"/>
<text x="0" y="0" transform="translate(322.3,424.7) scale(0.85,1)" text-anchor="middle" font-size="11" fill="#3a3a3a" stroke="#3a3a3a" stroke-width="0.25">46%</text>
<rect x="528.2" y="413.2" width="24.0" height="11.4" fill="#fff"/>
<text x="0" y="0" transform="translate(540.2,423.8) scale(0.85,1)" text-anchor="middle" font-size="11" fill="#3a3a3a" stroke="#3a3a3a" stroke-width="0.25">19%</text>
<text x="0" y="0" transform="translate(603.0,425.2) scale(0.85,1)" text-anchor="middle" font-size="11" fill="#fff" stroke="#fff" stroke-width="0.25">13%</text>
<text x="0" y="0" transform="translate(97.2,424.6) scale(0.85,1)" text-anchor="end" font-size="11" fill="#2e2e2e" stroke="#2e2e2e" stroke-width="0.2">Польша</text>
<rect x="122.0" y="431.3" width="25.3" height="20.6" fill="#fff"/>
<rect x="147.3" y="431.3" width="57.4" height="20.6" fill="url(#pS)"/>
<rect x="147.3" y="431.3" width="57.4" height="20.6" fill="url(#pS2)"/>
<rect x="204.7" y="431.3" width="149.3" height="20.6" fill="url(#pC)"/>
<rect x="204.7" y="431.3" width="149.3" height="20.6" fill="url(#pW)"/>
<rect x="354.0" y="431.3" width="173.7" height="20.6" fill="url(#pI)"/>
<rect x="527.7" y="431.3" width="119.8" height="20.6" fill="#000"/>
<rect x="122.0" y="431.3" width="525.5" height="2" fill="#111"/>
<rect x="122.0" y="449.9" width="525.5" height="2" fill="#111"/>
<rect x="146.3" y="431.3" width="2" height="20.6" fill="#111"/>
<rect x="203.7" y="431.3" width="2" height="20.6" fill="#111"/>
<rect x="353.0" y="431.3" width="2" height="20.6" fill="#111"/>
<rect x="526.7" y="431.3" width="2" height="20.6" fill="#111"/>
<text x="0" y="0" transform="translate(126.5,447.5) scale(0.85,1)" text-anchor="middle" font-size="11" fill="#3a3a3a" stroke="#3a3a3a" stroke-width="0.25">5%</text>
<rect x="162.4" y="435.9" width="21.0" height="11.4" fill="#fff"/>
<text x="0" y="0" transform="translate(172.9,446.5) scale(0.85,1)" text-anchor="middle" font-size="11" fill="#585858" stroke="#585858" stroke-width="0.25">11%</text>
<rect x="278.9" y="436.4" width="24.0" height="11.4" fill="#fff"/>
<text x="0" y="0" transform="translate(290.9,447.0) scale(0.85,1)" text-anchor="middle" font-size="11" fill="#3a3a3a" stroke="#3a3a3a" stroke-width="0.25">28%</text>
<rect x="442.4" y="435.5" width="24.0" height="11.4" fill="#fff"/>
<text x="0" y="0" transform="translate(454.4,446.1) scale(0.85,1)" text-anchor="middle" font-size="11" fill="#3a3a3a" stroke="#3a3a3a" stroke-width="0.25">33%</text>
<text x="0" y="0" transform="translate(576.6,447.5) scale(0.85,1)" text-anchor="middle" font-size="11" fill="#fff" stroke="#fff" stroke-width="0.25">22%</text>
<text x="0" y="0" transform="translate(97.2,446.9) scale(0.85,1)" text-anchor="end" font-size="11" fill="#2e2e2e" stroke="#2e2e2e" stroke-width="0.2">Чехия</text>
<rect x="122.0" y="453.6" width="17.5" height="20.6" fill="#fff"/>
<rect x="139.5" y="453.6" width="127.0" height="20.6" fill="url(#pS)"/>
<rect x="139.5" y="453.6" width="127.0" height="20.6" fill="url(#pS2)"/>
<rect x="266.5" y="453.6" width="181.6" height="20.6" fill="url(#pC)"/>
<rect x="266.5" y="453.6" width="181.6" height="20.6" fill="url(#pW)"/>
<rect x="448.1" y="453.6" width="97.6" height="20.6" fill="url(#pI)"/>
<rect x="545.7" y="453.6" width="101.8" height="20.6" fill="#000"/>
<rect x="122.0" y="453.6" width="525.5" height="2" fill="#111"/>
<rect x="122.0" y="472.2" width="525.5" height="2" fill="#111"/>
<rect x="138.5" y="453.6" width="2" height="20.6" fill="#111"/>
<rect x="265.5" y="453.6" width="2" height="20.6" fill="#111"/>
<rect x="447.1" y="453.6" width="2" height="20.6" fill="#111"/>
<rect x="544.7" y="453.6" width="2" height="20.6" fill="#111"/>
<text x="0" y="0" transform="translate(123.0,469.8) scale(0.85,1)" text-anchor="middle" font-size="11" fill="#3a3a3a" stroke="#3a3a3a" stroke-width="0.25">4%</text>
<rect x="188.9" y="458.2" width="21.0" height="11.4" fill="#fff"/>
<text x="0" y="0" transform="translate(199.4,468.8) scale(0.85,1)" text-anchor="middle" font-size="11" fill="#585858" stroke="#585858" stroke-width="0.25">24%</text>
<rect x="312.3" y="458.7" width="24.0" height="11.4" fill="#fff"/>
<text x="0" y="0" transform="translate(324.3,469.3) scale(0.85,1)" text-anchor="middle" font-size="11" fill="#3a3a3a" stroke="#3a3a3a" stroke-width="0.25">35%</text>
<rect x="496.0" y="457.8" width="24.0" height="11.4" fill="#fff"/>
<text x="0" y="0" transform="translate(508.0,468.4) scale(0.85,1)" text-anchor="middle" font-size="11" fill="#3a3a3a" stroke="#3a3a3a" stroke-width="0.25">19%</text>
<text x="0" y="0" transform="translate(586.3,469.8) scale(0.85,1)" text-anchor="middle" font-size="11" fill="#fff" stroke="#fff" stroke-width="0.25">19%</text>
<text x="0" y="0" transform="translate(97.2,469.2) scale(0.85,1)" text-anchor="end" font-size="11" fill="#2e2e2e" stroke="#2e2e2e" stroke-width="0.2">Болгария</text>
<rect x="122.0" y="475.9" width="10.2" height="20.6" fill="#fff"/>
<rect x="132.2" y="475.9" width="105.0" height="20.6" fill="url(#pS)"/>
<rect x="132.2" y="475.9" width="105.0" height="20.6" fill="url(#pS2)"/>
<rect x="237.2" y="475.9" width="125.8" height="20.6" fill="url(#pC)"/>
<rect x="237.2" y="475.9" width="125.8" height="20.6" fill="url(#pW)"/>
<rect x="363.0" y="475.9" width="148.0" height="20.6" fill="url(#pI)"/>
<rect x="511.0" y="475.9" width="136.5" height="20.6" fill="#000"/>
<rect x="122.0" y="475.9" width="525.5" height="2" fill="#111"/>
<rect x="122.0" y="494.5" width="525.5" height="2" fill="#111"/>
<rect x="131.2" y="475.9" width="2" height="20.6" fill="#111"/>
<rect x="236.2" y="475.9" width="2" height="20.6" fill="#111"/>
<rect x="362.0" y="475.9" width="2" height="20.6" fill="#111"/>
<rect x="510.0" y="475.9" width="2" height="20.6" fill="#111"/>
<text x="0" y="0" transform="translate(119.0,492.1) scale(0.85,1)" text-anchor="middle" font-size="11" fill="#3a3a3a" stroke="#3a3a3a" stroke-width="0.25">2%</text>
<rect x="172.6" y="480.5" width="21.0" height="11.4" fill="#fff"/>
<text x="0" y="0" transform="translate(183.1,491.1) scale(0.85,1)" text-anchor="middle" font-size="11" fill="#585858" stroke="#585858" stroke-width="0.25">20%</text>
<rect x="299.3" y="481.0" width="24.0" height="11.4" fill="#fff"/>
<text x="0" y="0" transform="translate(311.3,491.6) scale(0.85,1)" text-anchor="middle" font-size="11" fill="#3a3a3a" stroke="#3a3a3a" stroke-width="0.25">24%</text>
<rect x="440.3" y="480.1" width="24.0" height="11.4" fill="#fff"/>
<text x="0" y="0" transform="translate(452.3,490.7) scale(0.85,1)" text-anchor="middle" font-size="11" fill="#3a3a3a" stroke="#3a3a3a" stroke-width="0.25">28%</text>
<text x="0" y="0" transform="translate(567.4,492.1) scale(0.85,1)" text-anchor="middle" font-size="11" fill="#fff" stroke="#fff" stroke-width="0.25">26%</text>
<text x="0" y="0" transform="translate(97.2,491.5) scale(0.85,1)" text-anchor="end" font-size="11" fill="#2e2e2e" stroke="#2e2e2e" stroke-width="0.2">Россия</text>
<rect x="122.0" y="498.2" width="10.2" height="20.6" fill="#fff"/>
<rect x="132.2" y="498.2" width="84.7" height="20.6" fill="url(#pS)"/>
<rect x="132.2" y="498.2" width="84.7" height="20.6" fill="url(#pS2)"/>
<rect x="216.9" y="498.2" width="206.1" height="20.6" fill="url(#pC)"/>
<rect x="216.9" y="498.2" width="206.1" height="20.6" fill="url(#pW)"/>
<rect x="423.0" y="498.2" width="138.2" height="20.6" fill="url(#pI)"/>
<rect x="561.2" y="498.2" width="86.3" height="20.6" fill="#000"/>
<rect x="122.0" y="498.2" width="525.5" height="2" fill="#111"/>
<rect x="122.0" y="516.8" width="525.5" height="2" fill="#111"/>
<rect x="131.2" y="498.2" width="2" height="20.6" fill="#111"/>
<rect x="215.9" y="498.2" width="2" height="20.6" fill="#111"/>
<rect x="422.0" y="498.2" width="2" height="20.6" fill="#111"/>
<rect x="560.2" y="498.2" width="2" height="20.6" fill="#111"/>
<text x="0" y="0" transform="translate(118.6,514.4) scale(0.85,1)" text-anchor="middle" font-size="11" fill="#3a3a3a" stroke="#3a3a3a" stroke-width="0.25">2%</text>
<rect x="161.6" y="502.8" width="21.0" height="11.4" fill="#fff"/>
<text x="0" y="0" transform="translate(172.1,513.4) scale(0.85,1)" text-anchor="middle" font-size="11" fill="#585858" stroke="#585858" stroke-width="0.25">16%</text>
<rect x="320.5" y="503.3" width="24.0" height="11.4" fill="#fff"/>
<text x="0" y="0" transform="translate(332.5,513.9) scale(0.85,1)" text-anchor="middle" font-size="11" fill="#3a3a3a" stroke="#3a3a3a" stroke-width="0.25">39%</text>
<rect x="492.6" y="502.4" width="24.0" height="11.4" fill="#fff"/>
<text x="0" y="0" transform="translate(504.6,513.0) scale(0.85,1)" text-anchor="middle" font-size="11" fill="#3a3a3a" stroke="#3a3a3a" stroke-width="0.25">27%</text>
<text x="0" y="0" transform="translate(593.4,514.4) scale(0.85,1)" text-anchor="middle" font-size="11" fill="#fff" stroke="#fff" stroke-width="0.25">16%</text>
<text x="0" y="0" transform="translate(97.2,513.8) scale(0.85,1)" text-anchor="end" font-size="11" fill="#2e2e2e" stroke="#2e2e2e" stroke-width="0.2">Словакия</text>
<rect x="122.0" y="520.5" width="5.3" height="20.6" fill="#fff"/>
<rect x="127.3" y="520.5" width="161.6" height="20.6" fill="url(#pS)"/>
<rect x="127.3" y="520.5" width="161.6" height="20.6" fill="url(#pS2)"/>
<rect x="288.9" y="520.5" width="158.4" height="20.6" fill="url(#pC)"/>
<rect x="288.9" y="520.5" width="158.4" height="20.6" fill="url(#pW)"/>
<rect x="447.3" y="520.5" width="79.1" height="20.6" fill="url(#pI)"/>
<rect x="526.4" y="520.5" width="121.1" height="20.6" fill="#000"/>
<rect x="122.0" y="520.5" width="525.5" height="2" fill="#111"/>
<rect x="122.0" y="539.1" width="525.5" height="2" fill="#111"/>
<rect x="126.3" y="520.5" width="2" height="20.6" fill="#111"/>
<rect x="287.9" y="520.5" width="2" height="20.6" fill="#111"/>
<rect x="446.3" y="520.5" width="2" height="20.6" fill="#111"/>
<rect x="525.4" y="520.5" width="2" height="20.6" fill="#111"/>
<text x="0" y="0" transform="translate(116.0,536.7) scale(0.85,1)" text-anchor="middle" font-size="11" fill="#3a3a3a" stroke="#3a3a3a" stroke-width="0.25">1%</text>
<rect x="192.9" y="525.1" width="21.0" height="11.4" fill="#fff"/>
<text x="0" y="0" transform="translate(203.4,535.7) scale(0.85,1)" text-anchor="middle" font-size="11" fill="#585858" stroke="#585858" stroke-width="0.25">31%</text>
<rect x="368.5" y="525.6" width="24.0" height="11.4" fill="#fff"/>
<text x="0" y="0" transform="translate(380.5,536.2) scale(0.85,1)" text-anchor="middle" font-size="11" fill="#3a3a3a" stroke="#3a3a3a" stroke-width="0.25">30%</text>
<rect x="485.1" y="524.7" width="24.0" height="11.4" fill="#fff"/>
<text x="0" y="0" transform="translate(497.1,535.3) scale(0.85,1)" text-anchor="middle" font-size="11" fill="#3a3a3a" stroke="#3a3a3a" stroke-width="0.25">15%</text>
<text x="0" y="0" transform="translate(576.6,536.7) scale(0.85,1)" text-anchor="middle" font-size="11" fill="#fff" stroke="#fff" stroke-width="0.25">23%</text>
<text x="0" y="0" transform="translate(97.2,536.1) scale(0.85,1)" text-anchor="end" font-size="11" fill="#2e2e2e" stroke="#2e2e2e" stroke-width="0.2">Косово</text>
<rect x="46" y="477" width="601" height="2.2" fill="#000"/>
<rect x="46" y="477" width="2" height="20" fill="#000"/>
<rect x="48" y="496.8" width="599" height="3.4" fill="#000"/>
<text x="0" y="0" transform="translate(124.3,558.5) scale(0.9,1)" text-anchor="middle" font-size="10" fill="#999">0%</text>
<text x="0" y="0" transform="translate(223.7,558.5) scale(0.9,1)" text-anchor="middle" font-size="10" fill="#999">20%</text>
<text x="0" y="0" transform="translate(335.3,558.5) scale(0.9,1)" text-anchor="middle" font-size="10" fill="#999">40%</text>
<text x="0" y="0" transform="translate(440,558.5) scale(0.9,1)" text-anchor="middle" font-size="10" fill="#999">60%</text>
<text x="0" y="0" transform="translate(547.4,558.5) scale(0.9,1)" text-anchor="middle" font-size="10" fill="#999">80%</text>
<text x="0" y="0" transform="translate(650.7,558.5) scale(0.9,1)" text-anchor="middle" font-size="10" fill="#999">100%</text>
<rect x="111.2" y="570.2" width="11.6" height="11.6" fill="#fff" stroke="#000" stroke-width="2.4"/>
<text x="0" y="0" transform="translate(129.7,583.8) scale(0.84,1)" font-size="11" fill="#2e2e2e" stroke="#2e2e2e" stroke-width="0.25">Ценности Роста</text>
<rect x="241.1" y="569.9" width="13.5" height="13.5" fill="url(#pS)" stroke="#000" stroke-width="1.8"/>
<text x="0" y="0" transform="translate(259,583.8) scale(0.851,1)" font-size="11" fill="#2e2e2e" stroke="#2e2e2e" stroke-width="0.25">Сильная социальная ориентация</text>
<rect x="465.8" y="570.3" width="12.9" height="12.9" fill="url(#pC)" stroke="#000" stroke-width="1.6"/>
<text x="0" y="0" transform="translate(484.6,583.8) scale(0.837,1)" font-size="11" fill="#2e2e2e" stroke="#2e2e2e" stroke-width="0.25">Слабая социальная ориентация</text>
<rect x="109.75" y="606.25" width="11.5" height="11.5" fill="url(#pI)" stroke="#000" stroke-width="1.5"/>
<text x="0" y="0" transform="translate(129.6,618.8) scale(0.849,1)" font-size="11" fill="#2e2e2e" stroke="#2e2e2e" stroke-width="0.25">Слабая индивидуалистическая ориентация</text>
<rect x="379" y="606" width="12" height="10.5" fill="#000"/>
<text x="0" y="0" transform="translate(397.9,618.8) scale(0.848,1)" font-size="11" fill="#2e2e2e" stroke="#2e2e2e" stroke-width="0.25">Сильная индивидуалистическая ориентация</text>
</svg></body></html>
